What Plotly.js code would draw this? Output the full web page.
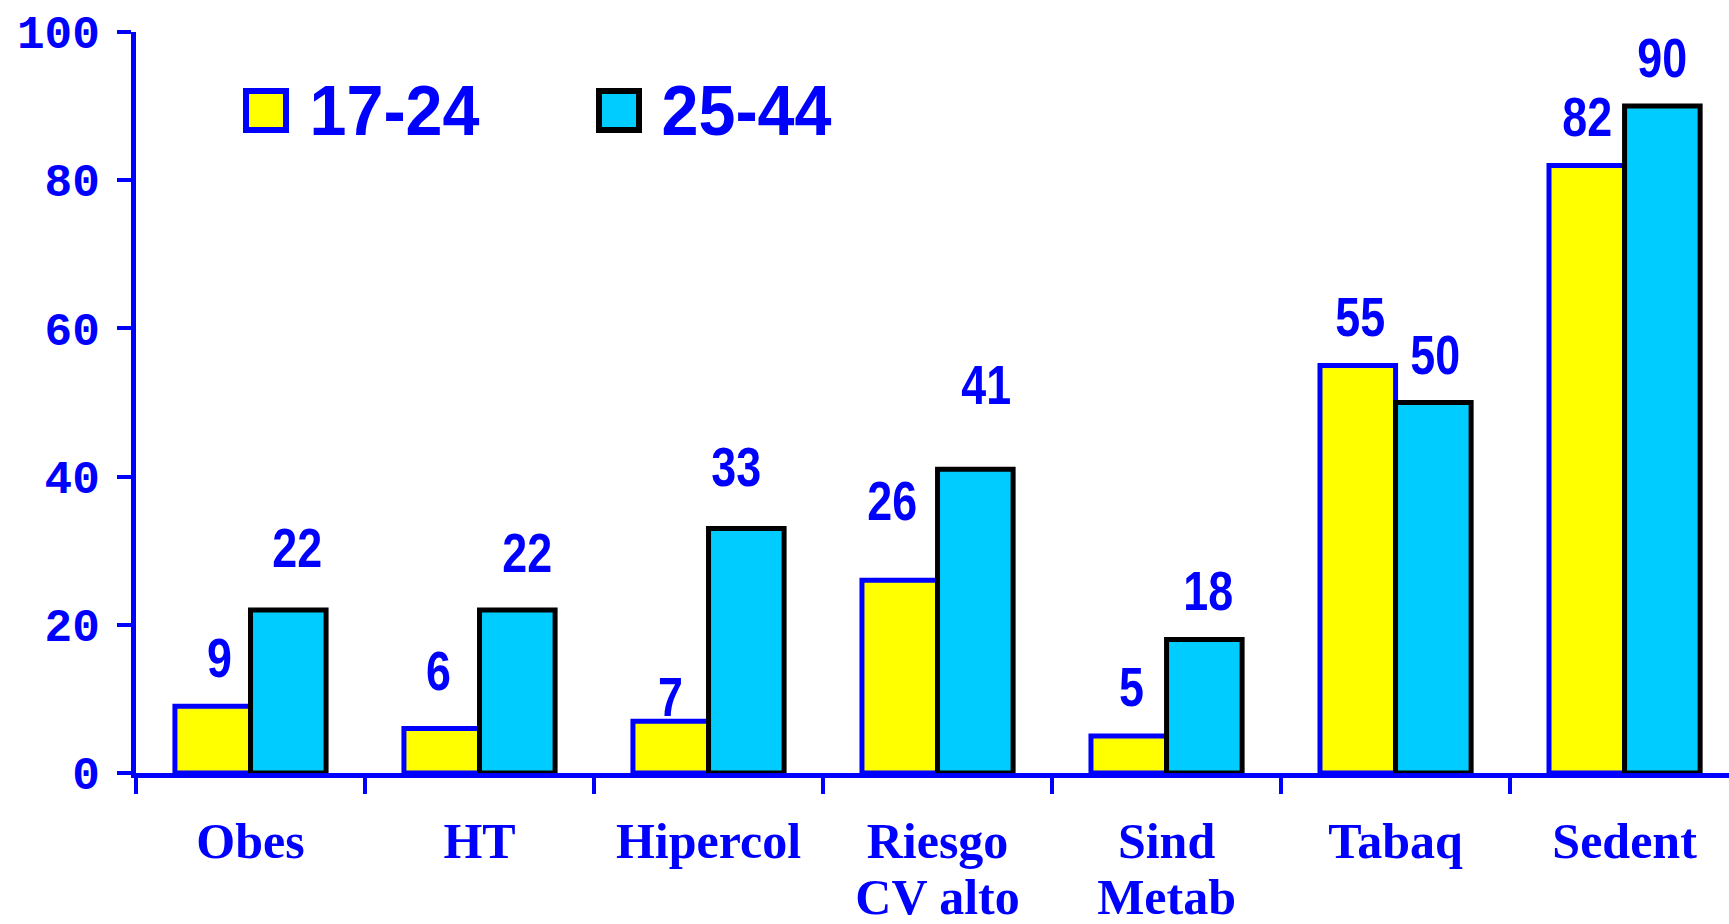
<!DOCTYPE html>
<html>
<head>
<meta charset="utf-8">
<script src="https://cdn.plot.ly/plotly-3.0.1.min.js"></script>
<style>html,body{margin:0;padding:0;background:#fff;}#chart{width:1729px;height:924px;}</style>
</head>
<body>
<div id="chart"></div>
<script>
// ---- data ----
const categories = ['Obes', 'HT', 'Hipercol', 'Riesgo<br>CV alto', 'Sind<br>Metab', 'Tabaq', 'Sedent'];
const seriesNames = ['17-24', '25-44'];
const values1724 = [9, 6, 7, 26, 5, 55, 82];
const values2544 = [22, 22, 33, 41, 18, 50, 90];
const yTickValues = [0, 20, 40, 60, 80, 100];

// ---- style ----
const BLUE = '#0000FF', YELLOW = '#FFFF00', CYAN = '#00CCFF', BLACK = '#000000';
const W = 1729, H = 924;
const M = {l: 136, r: 0, t: 32, b: 151};
const plotW = W - M.l - M.r, plotH = H - M.t - M.b;
const px = x => (x - M.l) / plotW;
const py = y => (H - M.b - y) / plotH;
const sans = '"Liberation Sans", Arial, sans-serif';

// value-label placement tweaks (layout only)
const lift1724 = [49, 58, 25, 80, 49, 49, 49];
const lift2544 = [62, 57, 62, 85, 49, 48, 49];
const nudge1724 = [7, -3, 0, -8, 3, 2, 0];
const nudge2544 = [9, 10, -10, 11, 4, 2, 0];

const traces = [
  {type: 'bar', name: seriesNames[0], x: categories, y: values1724,
   marker: {color: YELLOW, line: {color: BLUE, width: 5}}, hoverinfo: 'x+y'},
  {type: 'bar', name: seriesNames[1], x: categories, y: values2544,
   marker: {color: CYAN, line: {color: BLACK, width: 5}}, hoverinfo: 'x+y'}
];

const bargap = 0.34;
const xEnd = 6.456;
const catPx = plotW / (xEnd + 0.5);
const barHalf = catPx * (1 - bargap) / 4;

const annotations = [];
const annScale = [];
const labelFont = {family: sans, size: 56, color: BLUE, weight: 'bold'};
categories.forEach((c, i) => {
  annotations.push({x: c, y: values1724[i], xref: 'x', yref: 'y', text: String(values1724[i]),
    showarrow: false, xshift: -barHalf + nudge1724[i], yshift: lift1724[i], yanchor: 'middle', font: labelFont});
  annScale.push(0.8);
  annotations.push({x: c, y: values2544[i], xref: 'x', yref: 'y', text: String(values2544[i]),
    showarrow: false, xshift: barHalf + nudge2544[i], yshift: lift2544[i], yanchor: 'middle', font: labelFont});
  annScale.push(0.8);
});
// legend labels
const legendFont = {family: sans, size: 70, color: BLUE, weight: 'bold'};
annotations.push({xref: 'paper', yref: 'paper', x: px(394), y: py(111), xanchor: 'center', yanchor: 'middle',
  text: seriesNames[0], showarrow: false, font: legendFont});
annScale.push(0.95);
annotations.push({xref: 'paper', yref: 'paper', x: px(746), y: py(111), xanchor: 'center', yanchor: 'middle',
  text: seriesNames[1], showarrow: false, font: legendFont});
annScale.push(0.95);

const shapes = [
  {type: 'rect', xref: 'paper', yref: 'paper', x0: px(246), x1: px(286), y0: py(130), y1: py(91),
   fillcolor: YELLOW, line: {color: BLUE, width: 6}},
  {type: 'rect', xref: 'paper', yref: 'paper', x0: px(599), x1: px(639), y0: py(130), y1: py(91),
   fillcolor: CYAN, line: {color: BLACK, width: 6}}
];

const layout = {
  width: W, height: H, margin: M,
  paper_bgcolor: '#fff', plot_bgcolor: '#fff',
  showlegend: false,
  barmode: 'group', bargap: bargap, bargroupgap: 0,
  xaxis: {
    type: 'category', range: [-0.5, xEnd], tickson: 'boundaries',
    showline: true, linecolor: BLUE, linewidth: 5,
    ticks: 'outside', ticklen: 16, tickwidth: 4, tickcolor: BLUE,
    showgrid: false, zeroline: false,
    tickfont: {family: '"Liberation Serif", "Times New Roman", serif', size: 50, color: BLUE, weight: 'bold'},
    ticklabelstandoff: 20
  },
  yaxis: {
    range: [0, 100], tickvals: yTickValues, ticktext: yTickValues.map(String),
    showline: true, linecolor: BLUE, linewidth: 5,
    ticks: 'outside', ticklen: 14, tickwidth: 4, tickcolor: BLUE,
    showgrid: false, zeroline: false,
    tickfont: {family: '"Liberation Mono", "Courier New", monospace', size: 46, color: BLUE, weight: 'bold'},
    ticklabelstandoff: 8
  },
  annotations: annotations,
  shapes: shapes
};

Plotly.newPlot('chart', traces, layout, {displayModeBar: false, staticPlot: true}).then(gd => {
  // condensed look of the original's narrow bold face
  gd.querySelectorAll('g.annotation').forEach(g => {
    const i = +g.getAttribute('data-index');
    const t = g.querySelector('text.annotation-text');
    if (!t || !(i in annScale)) return;
    t.style.transformBox = 'fill-box';
    t.style.transformOrigin = 'center';
    t.style.transform = 'scaleX(' + annScale[i] + ')';
  });
  // tighter line spacing of two-line category labels, as in the original
  gd.querySelectorAll('g.xtick text tspan.line').forEach(ts => {
    const dy = ts.getAttribute('dy');
    if (dy && dy.indexOf('1.3em') === 0) ts.setAttribute('dy', '1.12em');
  });
});
</script>
</body>
</html>
